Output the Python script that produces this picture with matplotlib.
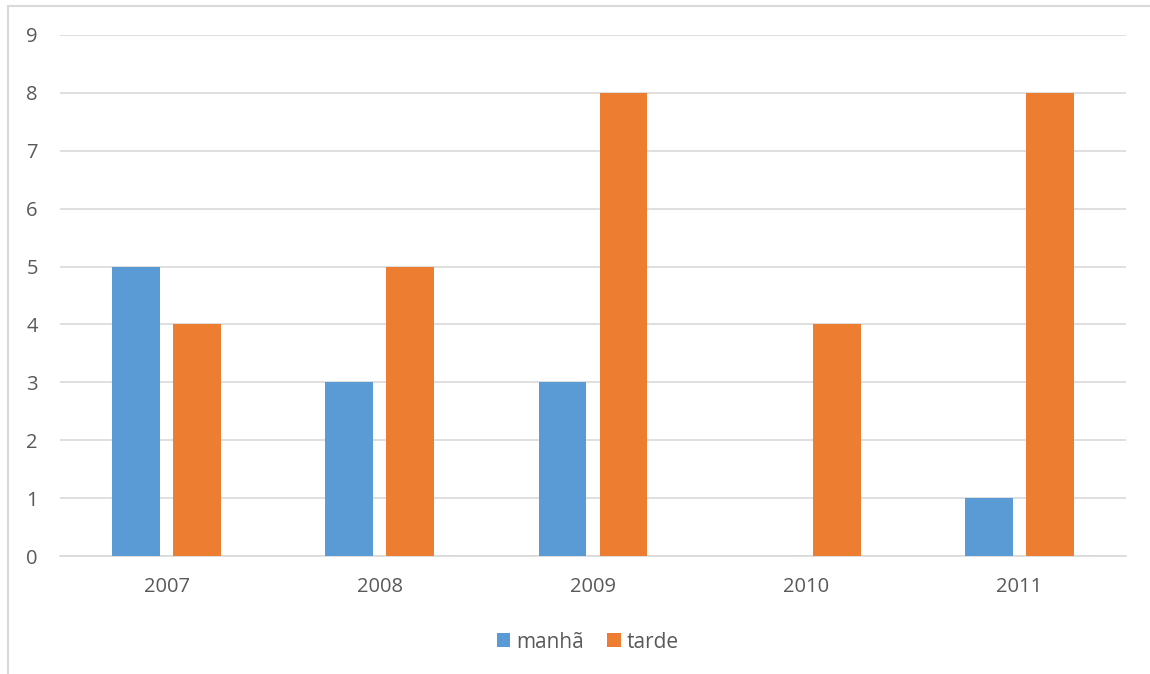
import numpy as np
import matplotlib.pyplot as plt
from matplotlib.lines import Line2D

years = ['2007', '2008', '2009', '2010', '2011']
manha = [5, 3, 3, 0, 1]
tarde = [4, 5, 8, 4, 8]

blue = '#5B9BD5'
orange = '#ED7D31'
txt = '#595959'

plt.rcParams['font.family'] = ['Open Sans', 'DejaVu Sans']

fig = plt.figure(figsize=(11.5, 6.74), dpi=100)
ax = fig.add_axes([60 / 1150, 118 / 674, 1066 / 1150, 521 / 674])

x = np.arange(len(years))
w = 0.225
off = 0.143
ax.bar(x - off, manha, w, color=blue, label='manhã', zorder=3)
ax.bar(x + off, tarde, w, color=orange, label='tarde', zorder=3)

ax.set_xlim(-0.5, len(years) - 0.5)
ax.set_ylim(0, 9)
ax.set_yticks(range(10))
ax.set_xticks(x)
ax.set_xticklabels(years)
ax.yaxis.grid(True, color='#D9D9D9', linewidth=1.2, zorder=0)
for s in ['top', 'right', 'left']:
    ax.spines[s].set_visible(False)
ax.spines['bottom'].set_color('#D9D9D9')
ax.spines['bottom'].set_linewidth(1.2)
ax.tick_params(length=0, labelsize=14.5, colors=txt)
ax.tick_params(axis='y', pad=16)
ax.tick_params(axis='x', pad=15)

leg = fig.legend(loc='center', bbox_to_anchor=(588 / 1150, 1 - 642 / 674), ncol=2,
                 frameon=False, fontsize=15, handlelength=0.65, handleheight=0.65,
                 handletextpad=0.3, columnspacing=1.1)
for t in leg.get_texts():
    t.set_color(txt)

# chart frame (only left and top visible in the crop)
fig.add_artist(Line2D([8 / 1150, 8 / 1150], [0, 1 - 6 / 674], transform=fig.transFigure,
                      color='#D9D9D9', linewidth=1.5))
fig.add_artist(Line2D([8 / 1150, 1], [1 - 6 / 674, 1 - 6 / 674], transform=fig.transFigure,
                      color='#D9D9D9', linewidth=1.5))

fig.savefig('out.png', dpi=100)
